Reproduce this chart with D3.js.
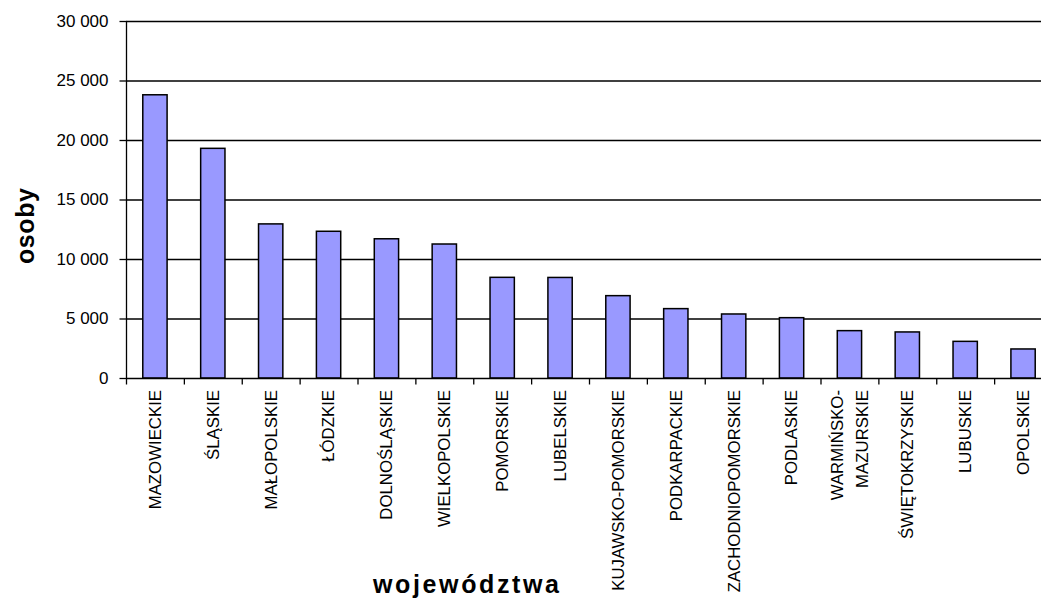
<!DOCTYPE html>
<html><head><meta charset="utf-8">
<script src="https://cdn.jsdelivr.net/npm/d3@7"></script>
<style>body{margin:0;background:#fff}text{font-family:"Liberation Sans",Arial,sans-serif}</style>
</head><body><svg id="c" width="1041" height="600"></svg>
<script>
const categories = ["MAZOWIECKIE","ŚLĄSKIE","MAŁOPOLSKIE","ŁÓDZKIE","DOLNOŚLĄSKIE","WIELKOPOLSKIE","POMORSKIE","LUBELSKIE","KUJAWSKO-POMORSKIE","PODKARPACKIE","ZACHODNIOPOMORSKIE","PODLASKIE","WARMIŃSKO-\nMAZURSKIE","ŚWIĘTOKRZYSKIE","LUBUSKIE","OPOLSKIE"];
const values = [23800,19300,12950,12330,11700,11260,8460,8450,6920,5830,5380,5070,3980,3870,3080,2440];
const yTicks = [0,5000,10000,15000,20000,25000,30000];
const yTitle = "osoby";
const xTitle = "województwa";

(function(){
const svg = d3.select("#c");
const L = 126, R = 1052, T = 21, B = 378;
const x = d3.scaleBand().domain(categories).range([L, R]).paddingInner(0.58).paddingOuter(0.29);
const xt = d3.scaleBand().domain(categories).range([L, R]);
const y = d3.scaleLinear().domain([0,30000]).range([B, T]);
const loc = d3.formatLocale({decimal:",", thousands:" ", grouping:[3], currency:["",""]});
const fmt = loc.format(",d");

// gridlines
svg.append("g").selectAll("line").data(yTicks.filter(d=>d>0)).join("line")
  .attr("x1", L).attr("x2", 1041).attr("y1", d=>y(d)+0.5).attr("y2", d=>y(d)+0.5)
  .attr("stroke", "#000").attr("stroke-width", 1.3);

// bars
svg.append("g").selectAll("rect").data(values).join("rect")
  .attr("x", (d,i)=>x(categories[i]))
  .attr("y", d=>y(d))
  .attr("width", x.bandwidth())
  .attr("height", d=>B - y(d))
  .attr("fill", "#9999ff").attr("stroke", "#000").attr("stroke-width", 1.5);

// y axis
const ya = svg.append("g").attr("transform", `translate(${L+0.5},0)`)
  .call(d3.axisLeft(y).tickValues(yTicks).tickFormat(fmt).tickSize(7).tickPadding(11));
ya.attr("font-size", 17).attr("font-family", "Liberation Sans, Arial, sans-serif");
ya.select(".domain").attr("stroke-width", 1.3).attr("d", `M0,${T}V${B}`);
ya.selectAll(".tick line").attr("stroke-width", 1.3);
ya.selectAll(".tick text").attr("fill", "#000").attr("font-size", 17).style("font-size", "17px");

// x axis
const xa = svg.append("g").attr("transform", `translate(0,${B+0.5})`);
xa.append("line").attr("x1", L).attr("x2", 1041).attr("y1", 0).attr("y2", 0).attr("stroke", "#000").attr("stroke-width", 1.3);
const tickPos = categories.map(c=>xt(c)).concat([R]);
xa.selectAll("line.t").data(tickPos).join("line").attr("class","t")
  .attr("x1", d=>d+0.5).attr("x2", d=>d+0.5).attr("y1", 0).attr("y2", 6)
  .attr("stroke", "#000").attr("stroke-width", 1.3);

const lab = svg.append("g").selectAll("text").data(categories).join("text")
  .attr("transform", c=>`translate(${xt(c)+xt.bandwidth()/2},${B+12}) rotate(-90)`)
  .attr("text-anchor", "end").style("font-size", "16.8px").attr("fill", "#000");
lab.each(function(c){
  const lines = c.split("\n");
  const t = d3.select(this);
  const n = lines.length;
  lines.forEach((l,i)=>{
    t.append("tspan").attr("x", 0).attr("y", (i - (n-1)/2)*25).attr("dy", "0.35em").text(l);
  });
});

// titles
svg.append("text").attr("transform", "translate(34,226) rotate(-90)")
  .attr("text-anchor", "middle").style("font-size", "25px").attr("font-weight", "bold")
  .attr("textLength", 76).attr("lengthAdjust", "spacing").text(yTitle);
svg.append("text").attr("x", 466).attr("y", 593)
  .attr("text-anchor", "middle").style("font-size", "25px").attr("font-weight", "bold")
  .attr("textLength", 186).attr("lengthAdjust", "spacing").text(xTitle);
})();
</script></body></html>
